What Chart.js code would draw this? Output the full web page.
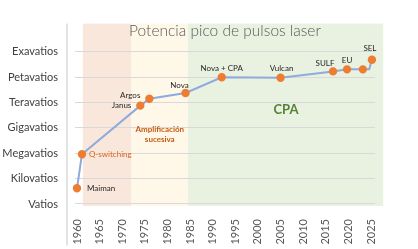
<!DOCTYPE html>
<html>
<head>
<meta charset="utf-8">
<script src="https://cdn.jsdelivr.net/npm/chart.js@4"></script>
<style>
  html, body { margin: 0; padding: 0; background: #fff; }
  canvas { display: block; }
</style>
</head>
<body>
<canvas id="chart" width="418" height="249"></canvas>
<script>
// power levels, one grid step = x1000
const levelNames = ['Vatios', 'Kilovatios', 'Megavatios', 'Gigavatios', 'Teravatios', 'Petavatios', 'Exavatios'];
const yearTicks = [1960, 1965, 1970, 1975, 1980, 1985, 1990, 1995, 2000, 2005, 2010, 2015, 2020, 2025];

const years  = [1960, 1961.1, 1974, 1976, 1984, 1992, 2005, 2016.6, 2019.7, 2023.2, 2024.6, 2025.2];
const levels = [0.62, 1.96, 3.88, 4.15, 4.38, 5.0, 4.98, 5.23, 5.31, 5.31, 5.31, 5.69];
const pointNames = ['Maiman', 'Q-switching', 'Janus', 'Argos', 'Nova', 'Nova + CPA', 'Vulcan', 'SULF', 'EU', '', '', 'SEL'];
const markers = [1, 1, 1, 1, 1, 1, 1, 1, 1, 1, 0, 1];

// eras shaded behind the plot
const eras = [
    { from: 1961.3, to: 1972, color: '#F9E7DB' },
    { from: 1972, to: 1984.5, color: '#FFF8E9' },
    { from: 1984.5, to: 2027.7, color: '#E9F1E1' }
];

const FONT = 'Lato, "Open Sans", sans-serif';

const shading = {
    id: 'shading',
    beforeDraw(chart) {
        const { ctx, chartArea, scales } = chart;
        ctx.save();
        eras.forEach(e => {
            const x1 = scales.x.getPixelForValue(e.from);
            const x2 = scales.x.getPixelForValue(e.to);
            ctx.fillStyle = e.color;
            ctx.fillRect(x1, chartArea.top, x2 - x1, chartArea.bottom - chartArea.top + 1);
        });
        // light frame line at the left
        ctx.fillStyle = '#E3E3E3';
        ctx.fillRect(66, chartArea.top, 2, 222);
        ctx.restore();
    }
};

// where each point name sits, relative to its marker
const labelPlace = {
    'Maiman': { dx: 10, dy: 0, align: 'left' },
    'Q-switching': { dx: 7, dy: 0, align: 'left', color: '#D9651C' },
    'Janus': { dx: -9, dy: 0, align: 'right' },
    'Argos': { dx: -9, dy: -3, align: 'right' },
    'Nova': { dx: -6, dy: -8, align: 'center' },
    'Nova + CPA': { dx: 0, dy: -9, align: 'center' },
    'Vulcan': { dx: 1, dy: -9, align: 'center' },
    'SULF': { dx: -8, dy: -8, align: 'center' },
    'EU': { dx: 0, dy: -9, align: 'center' },
    'SEL': { dx: -2, dy: -11, align: 'center' }
};

const annotations = {
    id: 'annotations',
    afterDatasetsDraw(chart) {
        const { ctx, chartArea, scales } = chart;
        const meta = chart.getDatasetMeta(0);
        ctx.save();
        ctx.textBaseline = 'middle';
        ctx.font = '8px ' + FONT;
        meta.data.forEach((pt, i) => {
            const name = pointNames[i];
            if (!name) return;
            const p = labelPlace[name];
            ctx.fillStyle = p.color || '#262626';
            ctx.textAlign = p.align;
            ctx.fillText(name, pt.x + p.dx, pt.y + p.dy);
        });

        ctx.textAlign = 'center';
        ctx.fillStyle = '#C55A11';
        ctx.font = 'bold 8px ' + FONT;
        const ax = scales.x.getPixelForValue(1978.3);
        ctx.fillText('Amplificación', ax, 129);
        ctx.fillText('sucesiva', ax, 139);

        ctx.fillStyle = '#548235';
        ctx.font = 'bold 13px ' + FONT;
        ctx.fillText('CPA', scales.x.getPixelForValue(2006.2), 110);

        ctx.fillStyle = '#595959';
        ctx.font = '300 15.5px ' + FONT;
        ctx.fillText('Potencia pico de pulsos laser', (chartArea.left + chartArea.right) / 2, 31);
        ctx.restore();
    }
};

new Chart(document.getElementById('chart'), {
    type: 'line',
    data: {
        datasets: [{
            data: years.map((y, i) => ({ x: y, y: levels[i] })),
            borderColor: '#8FAADC',
            borderWidth: 2,
            pointBackgroundColor: '#ED7D31',
            pointBorderColor: '#ED7D31',
            pointRadius: markers.map(m => m ? 3.2 : 0),
            tension: 0,
            clip: false
        }]
    },
    options: {
        responsive: false,
        animation: false,
        layout: { padding: { top: 19, right: 43, left: 0, bottom: 0 } },
        plugins: {
            legend: { display: false },
            tooltip: { enabled: false }
        },
        scales: {
            x: {
                type: 'linear',
                min: 1959.56,
                max: 2025.88,
                afterBuildTicks: s => { s.ticks = yearTicks.map(v => ({ value: v })); },
                afterFit: s => { s.height = 44; },
                grid: { display: false },
                border: { display: false },
                ticks: {
                    minRotation: 90,
                    maxRotation: 90,
                    padding: 6,
                    color: '#595959',
                    font: { family: FONT, size: 11 },
                    callback: v => String(v)
                }
            },
            y: {
                min: -0.04,
                max: 7.115,
                afterBuildTicks: s => { s.ticks = levelNames.map((n, i) => ({ value: i })); },
                afterFit: s => { s.width = 75; },
                grid: { color: '#D9D9D9', drawTicks: false },
                border: { display: false },
                ticks: {
                    padding: 17,
                    color: '#404040',
                    font: { family: FONT, size: 11 },
                    callback: v => levelNames[v]
                }
            }
        }
    },
    plugins: [shading, annotations]
});
</script>
</body>
</html>
